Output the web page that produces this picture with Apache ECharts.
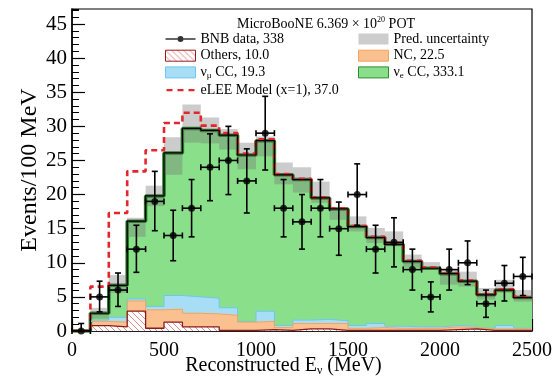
<!DOCTYPE html>
<html>
<head>
<meta charset="utf-8">
<script src="https://cdn.jsdelivr.net/npm/echarts@6/dist/echarts.min.js"></script>
<style>
  html, body { margin: 0; padding: 0; background: #fff; }
  #chart { width: 555px; height: 377px; }
</style>
</head>
<body>
<div id="chart"></div>
<script>
// bin edges in MeV (100 MeV bins)
const binEdges = [0, 100, 200, 300, 400, 500, 600, 700, 800, 900, 1000, 1100, 1200,
  1300, 1400, 1500, 1600, 1700, 1800, 1900, 2000, 2100, 2200, 2300, 2400, 2500];

// stacked predictions, one value per bin
const others = [0, 0.8, 0.6, 2.9, 0.4, 1.3, 0.6, 0.6, 0.1, 0.1, 0.2, 0.1, 0.3, 0.3, 0.1, 0.1, 0.1, 0.1, 0.1, 0.1, 0.2, 0.3, 0.1, 0.1, 0.1];
const nc = [0, 0.6, 0.7, 1.5, 2.7, 1.9, 2.0, 1.9, 2.2, 1.2, 1.2, 0.4, 0.8, 0.8, 1.0, 0.3, 0.4, 0.3, 0.3, 0.3, 0.4, 0.2, 0.2, 0.2, 0.2];
const numuCC = [0, 0.2, 0.7, 0.3, 0.5, 2.0, 2.4, 2.3, 1.1, 0.1, 1.5, 0.3, 0.5, 0.6, 0.4, 0.4, 0.6, 0.3, 0.2, 0.2, 0.2, 0.2, 0.1, 0.5, 0.1];
const nueCC = [0, 1.0, 4.7, 11.4, 16.2, 20.9, 24.7, 24.6, 25.3, 24.4, 25.0, 22.1, 20.6, 17.8, 16.4, 14.5, 12.6, 12.0, 9.6, 8.6, 7.6, 6.6, 4.9, 5.2, 4.5];

// prediction uncertainty band
const predLow = [0, 1.8, 5.6, 13.8, 18.3, 22.9, 27.6, 27.5, 26.6, 23.7, 25.6, 21.5, 20.3, 18.8, 16.3, 14.6, 12.9, 12.4, 9.3, 9.0, 6.8, 6.5, 4.6, 5.6, 4.3];
const predHigh = [0, 3.4, 8.2, 16.6, 21.3, 28.4, 33.2, 31.3, 29.6, 27.6, 28.5, 24.7, 24.0, 21.9, 18.1, 16.8, 15.1, 14.6, 11.2, 10.1, 9.0, 8.7, 6.3, 7.5, 6.0];

// eLEE model (x=1) on top of prediction
const eLEE = [0, 6.5, 17.3, 23.4, 26.5, 30.5, 32.0, 30.1, 29.0, 26.0, 28.1, 23.0, 22.3, 19.6, 18.0, 15.4, 13.8, 12.8, 10.3, 9.3, 8.5, 7.4, 5.4, 6.1, 5.0];

// BNB data
const dataCounts = [0, 5, 6, 12, 19, 14, 18, 24, 25, 22, 29, 18, 16, 18, 15, 20, 12, 13, 9, 5, 9, 10, 4, 7, 8];
const errUp = [1.1, 2.3, 2.5, 3.5, 4.4, 3.7, 4.2, 4.9, 5.0, 4.7, 5.4, 4.2, 4.0, 4.2, 3.9, 4.5, 3.5, 3.6, 3.0, 2.2, 3.0, 3.2, 2.0, 2.6, 2.8];
const errDown = [0, 2.2, 2.4, 3.4, 4.3, 3.7, 4.2, 4.9, 5.0, 4.7, 5.4, 4.2, 4.0, 4.2, 3.9, 4.5, 3.5, 3.6, 3.0, 2.2, 3.0, 3.2, 2.0, 2.6, 2.8];

const FONT = '"Liberation Serif", "DejaVu Serif", serif';

// running stack tops (bottom -> top): others, +nc, +numu CC, +nue CC
const layers = [others, nc, numuCC, nueCC];
const stackTops = layers.map((_, k) => others.map((__, i) => {
  let s = 0;
  for (let j = 0; j <= k; j++) s += layers[j][i];
  return s;
}));

// step points: left edge of every bin plus the closing right edge
const stepData = vals => binEdges.map((e, i) => [e, vals[Math.min(i, vals.length - 1)]]);

function hatch(color) {
  const c = document.createElement('canvas');
  c.width = 6; c.height = 6;
  const g = c.getContext('2d');
  g.fillStyle = '#fff';
  g.fillRect(0, 0, 6, 6);
  g.strokeStyle = color;
  g.lineWidth = 1;
  g.beginPath();
  g.moveTo(-1, -1); g.lineTo(7, 7);
  g.moveTo(-1, 5); g.lineTo(1, 7);
  g.moveTo(5, -1); g.lineTo(7, 1);
  g.stroke();
  return c;
}
const othersFill = { image: hatch('#e58c8c'), repeat: 'repeat' };

// each layer is filled down to zero; drawn top layer first so lower layers cover it
const layerSeries = (name, vals, fill, edge, width, z) => ({
  name: name,
  type: 'line',
  step: 'end',
  symbol: 'none',
  z: z,
  silent: true,
  data: stepData(vals),
  itemStyle: { color: fill },
  lineStyle: { color: edge, width: width },
  areaStyle: { color: fill, opacity: 1, origin: 'start' }
});

const legendText = {
  fontFamily: FONT, fontSize: 14, lineHeight: 14, color: '#000',
  rich: { sub: { fontFamily: FONT, fontSize: 9, padding: [7, 0, 0, 0], color: '#000' } }
};

const chart = echarts.init(document.getElementById('chart'));
chart.setOption({
  animation: false,
  backgroundColor: '#fff',
  title: {
    text: 'MicroBooNE 6.369 × 10{sup|20} POT',
    left: 232,
    top: 11,
    textStyle: {
      fontFamily: FONT, fontSize: 14, fontWeight: 'normal', color: '#000',
      rich: { sup: { fontFamily: FONT, fontSize: 8, padding: [0, 0, 9, 0], color: '#000' } }
    }
  },
  legend: [
    {
      left: 160, top: 27, orient: 'vertical',
      itemWidth: 30, itemHeight: 11, itemGap: 2.7,
      selectedMode: false, symbolKeepAspect: true,
      formatter: n => n.replace(/_(.)/, '{sub|$1}'),
      textStyle: legendText,
      data: [
        { name: 'BNB data, 338', icon: 'path://M0,0L0.01,0M0,11L0.01,11M0,4.8H12V6.2H0ZM18,4.8H30V6.2H18ZM18,5.5A3,3,0,1,1,12,5.5A3,3,0,1,1,18,5.5Z',
          itemStyle: { color: '#000', borderWidth: 0 } },
        { name: 'Others, 10.0', icon: 'rect', itemStyle: { color: othersFill, borderColor: '#9b1c1c', borderWidth: 1 } },
        { name: 'ν_μ CC, 19.3', icon: 'rect', itemStyle: { color: '#a8def5', borderColor: '#6cc8ee', borderWidth: 1 } },
        { name: 'eLEE Model (x=1), 37.0', icon: 'path://M0,0L0.01,0M0,11L0.01,11M0,4.3H6V6.7H0ZM11,4.3H17V6.7H11ZM22,4.3H28V6.7H22Z',
          itemStyle: { color: '#e3262c', borderWidth: 0 } }
      ]
    },
    {
      left: 353, top: 27, orient: 'vertical',
      itemWidth: 30, itemHeight: 11, itemGap: 2.7,
      selectedMode: false, symbolKeepAspect: true,
      formatter: n => n.replace(/_(.)/, '{sub|$1}'),
      textStyle: legendText,
      data: [
        { name: 'Pred. uncertainty', icon: 'rect', itemStyle: { color: '#cdcdcd', borderWidth: 0 } },
        { name: 'NC, 22.5', icon: 'rect', itemStyle: { color: '#fbc08f', borderColor: '#f5a35c', borderWidth: 1 } },
        { name: 'ν_e CC, 333.1', icon: 'rect', itemStyle: { color: '#8ae08a', borderColor: '#2e8b2e', borderWidth: 1 } }
      ]
    }
  ],
  grid: {
    left: 72, right: 23, top: 9, bottom: 46,
    outerBoundsMode: 'none',
    show: true, borderColor: '#000', borderWidth: 1.2, backgroundColor: 'transparent'
  },
  xAxis: {
    type: 'value', min: 0, max: 2500, interval: 500,
    name: 'Reconstructed E{sub|ν} (MeV)',
    nameLocation: 'middle', nameGap: 24, nameMoveOverlap: false,
    nameTextStyle: {
      fontFamily: FONT, fontSize: 20, color: '#000', padding: [0, 37, 0, 0],
      rich: { sub: { fontFamily: FONT, fontSize: 12, padding: [10, 0, 0, 0], color: '#000' } }
    },
    axisLine: { lineStyle: { color: '#000', width: 1.5 } },
    axisTick: { inside: true, length: 12, lineStyle: { color: '#000', width: 1.2 } },
    minorTick: { show: true, splitNumber: 5, length: 6, lineStyle: { color: '#000', width: 1 } },
    axisLabel: { fontFamily: FONT, fontSize: 20, color: '#000', margin: 10, formatter: v => String(v) },
    splitLine: { show: false }
  },
  yAxis: [
    {
      type: 'value', min: 0, max: 47.2, interval: 5,
      name: 'Events/100 MeV',
      nameLocation: 'middle', nameGap: 30, nameMoveOverlap: false,
      nameTextStyle: { fontFamily: FONT, fontSize: 24, color: '#000' },
      axisLine: { show: true, lineStyle: { color: '#000', width: 1.5 } },
      axisTick: { show: true, inside: true, length: 13, lineStyle: { color: '#000', width: 1.2 } },
      axisLabel: { fontFamily: FONT, fontSize: 21, color: '#000', margin: 5, showMaxLabel: false, formatter: v => String(v) },
      splitLine: { show: false }
    },
    {
      type: 'value', min: 0, max: 47.2, interval: 1, position: 'left',
      axisLine: { show: false },
      axisTick: { show: true, inside: true, length: 7, lineStyle: { color: '#000', width: 1 } },
      axisLabel: { show: false },
      splitLine: { show: false }
    }
  ],
  series: [
    layerSeries('ν_e CC, 333.1', stackTops[3], '#8ae08a', '#1f7a1f', 3.5, 2),
    layerSeries('ν_μ CC, 19.3', stackTops[2], '#a8def5', '#6cc8ee', 1, 2),
    layerSeries('NC, 22.5', stackTops[1], '#fbc08f', '#f5a35c', 1, 2),
    layerSeries('Others, 10.0', stackTops[0], othersFill, '#8b1a1a', 1.3, 2),
    {
      name: 'Pred. uncertainty',
      type: 'custom',
      z: 3,
      silent: true,
      itemStyle: { color: '#cdcdcd' },
      encode: { x: [0, 1], y: [2, 3] },
      data: predLow.map((v, i) => [binEdges[i], binEdges[i + 1], v, predHigh[i]]),
      renderItem: (params, api) => {
        const p0 = api.coord([api.value(0), api.value(3)]);
        const p1 = api.coord([api.value(1), api.value(2)]);
        return {
          type: 'rect',
          shape: { x: p0[0], y: p0[1], width: p1[0] - p0[0], height: p1[1] - p0[1] },
          style: { fill: 'rgba(115,115,115,0.36)' }
        };
      }
    },
    {
      name: 'eLEE Model (x=1), 37.0',
      type: 'line',
      step: 'end',
      symbol: 'none',
      z: 4,
      silent: true,
      data: stepData(eLEE),
      itemStyle: { color: '#e3262c' },
      lineStyle: { color: '#e3262c', width: 2.6, type: [6, 4] }
    },
    {
      type: 'line',
      step: 'end',
      symbol: 'none',
      z: 5,
      silent: true,
      data: stepData(stackTops[3]),
      lineStyle: { color: '#000', width: 1.2 }
    },
    {
      type: 'custom',
      z: 6,
      silent: true,
      encode: { x: [0, 1, 2], y: [3, 4, 5] },
      data: dataCounts.map((v, i) => [binEdges[i], binEdges[i + 1], (binEdges[i] + binEdges[i + 1]) / 2,
        v, v - errDown[i], v + errUp[i]]),
      renderItem: (params, api) => {
        const c = api.coord([api.value(2), api.value(3)]);
        const l = api.coord([api.value(0), api.value(3)]);
        const r = api.coord([api.value(1), api.value(3)]);
        const lo = api.coord([api.value(2), api.value(4)]);
        const hi = api.coord([api.value(2), api.value(5)]);
        const st = { stroke: '#000', lineWidth: 1.6 };
        const ln = (x1, y1, x2, y2) => ({ type: 'line', shape: { x1, y1, x2, y2 }, style: st });
        return {
          type: 'group',
          children: [
            ln(c[0], lo[1], c[0], hi[1]),
            ln(c[0] - 3, lo[1], c[0] + 3, lo[1]),
            ln(c[0] - 3, hi[1], c[0] + 3, hi[1]),
            ln(l[0], c[1], r[0], c[1]),
            ln(l[0], c[1] - 3, l[0], c[1] + 3),
            ln(r[0], c[1] - 3, r[0], c[1] + 3)
          ]
        };
      }
    },
    {
      name: 'BNB data, 338',
      type: 'scatter',
      z: 7,
      silent: true,
      symbolSize: 7,
      itemStyle: { color: '#000' },
      data: dataCounts.map((v, i) => [(binEdges[i] + binEdges[i + 1]) / 2, v])
    }
  ]
});
</script>
</body>
</html>
